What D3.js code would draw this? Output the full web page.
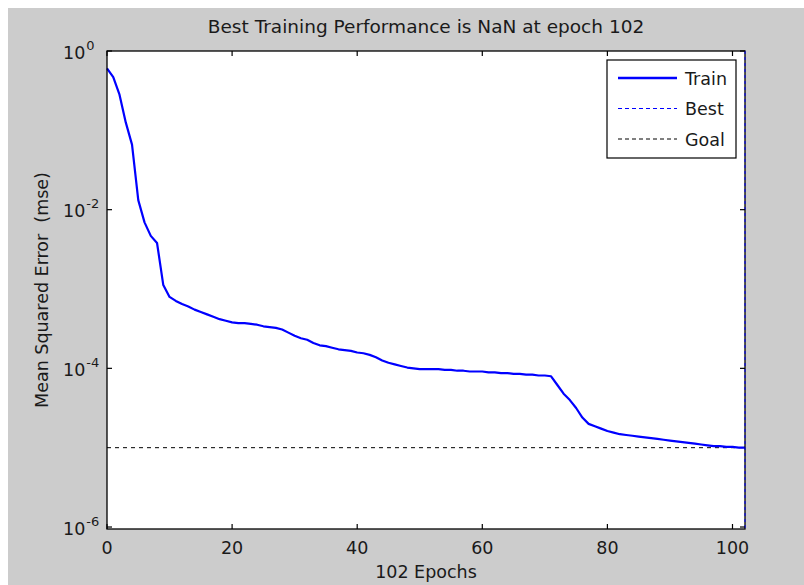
<!DOCTYPE html>
<html>
<head>
<meta charset="utf-8">
<script src="https://cdn.jsdelivr.net/npm/d3@7"></script>
<style>
  body { margin: 0; background: #ffffff; }
  text { font-family: "DejaVu Sans", sans-serif; fill: #1a1a1a; white-space: pre; }
</style>
</head>
<body>
<div id="chart"></div>
<script>
// training curve, log10(mse) read per epoch off the picture
var epochs = d3.range(0, 103);
var trainLogMse = [
  -0.22, -0.33, -0.55, -0.90, -1.18, -1.88, -2.16, -2.33, -2.42, -2.95,
  -3.10, -3.15, -3.19, -3.22, -3.26, -3.29, -3.32, -3.35, -3.38, -3.40,
  -3.42, -3.43, -3.43, -3.44, -3.45, -3.47, -3.48, -3.49, -3.51, -3.55,
  -3.59, -3.62, -3.64, -3.68, -3.71, -3.72, -3.74, -3.76, -3.77, -3.78,
  -3.80, -3.81, -3.83, -3.86, -3.90, -3.93, -3.95, -3.97, -3.99, -4.00,
  -4.01, -4.01, -4.01, -4.01, -4.02, -4.02, -4.03, -4.03, -4.04, -4.04,
  -4.04, -4.05, -4.05, -4.06, -4.06, -4.07, -4.07, -4.08, -4.08, -4.09,
  -4.09, -4.10, -4.21, -4.32, -4.40, -4.50, -4.62, -4.70, -4.73, -4.76,
  -4.79, -4.81, -4.83, -4.84, -4.85, -4.86, -4.87, -4.88, -4.89, -4.90,
  -4.91, -4.92, -4.93, -4.94, -4.95, -4.96, -4.97, -4.98, -4.98, -4.99,
  -4.99, -5.00, -5.00
];
var goalMse = 1e-5;
var bestEpoch = 102;
var xTicks = [0, 20, 40, 60, 80, 100];
var yTickExps = [0, -2, -4, -6];
var legendNames = ["Train", "Best", "Goal"];
var titleText = "Best Training Performance is NaN at epoch 102";
var xLabel = "102 Epochs";
var yLabel = "Mean Squared Error  (mse)";

var W = 804, H = 585;
// plot box edges (top is a reserved window prop, so prefix them)
var box_left = 107, box_right = 745, box_top = 51, box_bottom = 529;
var tick_len = 5;
var font_px = "17.5px";

var svg = d3.select("#chart").append("svg")
  .attr("width", W)
  .attr("height", H);

// figure background
svg.append("rect")
  .attr("x", 8).attr("y", 8)
  .attr("width", W - 8).attr("height", H - 8)
  .attr("fill", "#cccccc");

var x = d3.scaleLinear().domain([0, 102]).range([box_left, box_right]);
var y = d3.scaleLog().domain([Math.pow(10, -6.025), 1]).range([box_bottom, box_top]);

svg.append("rect")
  .attr("x", box_left).attr("y", box_top)
  .attr("width", box_right - box_left).attr("height", box_bottom - box_top)
  .attr("fill", "#ffffff");

var plot = svg.append("g");

// goal line
plot.append("line")
  .attr("x1", x(0)).attr("x2", x(102))
  .attr("y1", y(goalMse)).attr("y2", y(goalMse))
  .attr("stroke", "#000")
  .attr("stroke-width", 1)
  .attr("stroke-dasharray", "4,4");

var line = d3.line()
  .x(function(d, i) { return x(epochs[i]); })
  .y(function(d) { return y(Math.pow(10, d)); });

plot.append("path")
  .datum(trainLogMse)
  .attr("d", line)
  .attr("fill", "none")
  .attr("stroke", "#0000ff")
  .attr("stroke-width", 2.2)
  .attr("stroke-linejoin", "round");

// box
svg.append("rect")
  .attr("x", box_left).attr("y", box_top)
  .attr("width", box_right - box_left).attr("height", box_bottom - box_top)
  .attr("fill", "none")
  .attr("stroke", "#000")
  .attr("stroke-width", 1.3);

// best epoch vertical marker (sits on the right edge)
svg.append("line")
  .attr("x1", x(bestEpoch)).attr("x2", x(bestEpoch))
  .attr("y1", box_top).attr("y2", box_bottom)
  .attr("stroke", "#0000ff")
  .attr("stroke-width", 1)
  .attr("stroke-dasharray", "3,3");

// ticks, all four sides, pointing in
var ticks = svg.append("g").attr("stroke", "#000").attr("stroke-width", 1.2);
xTicks.forEach(function(t) {
  ticks.append("line").attr("x1", x(t)).attr("x2", x(t)).attr("y1", box_bottom).attr("y2", box_bottom - tick_len);
  ticks.append("line").attr("x1", x(t)).attr("x2", x(t)).attr("y1", box_top).attr("y2", box_top + tick_len);
});
yTickExps.forEach(function(e) {
  var yy = y(Math.pow(10, e));
  ticks.append("line").attr("x1", box_left).attr("x2", box_left + tick_len).attr("y1", yy).attr("y2", yy);
  ticks.append("line").attr("x1", box_right).attr("x2", box_right - tick_len).attr("y1", yy).attr("y2", yy);
});

// tick labels
svg.append("g").selectAll("text")
  .data(xTicks)
  .enter().append("text")
  .attr("x", function(d) { return x(d); })
  .attr("y", box_bottom + 25)
  .attr("text-anchor", "middle")
  .style("font-size", font_px)
  .text(function(d) { return d; });

var ylab = svg.append("g").selectAll("text")
  .data(yTickExps)
  .enter().append("text")
  .attr("x", 63)
  .attr("y", function(d) { return y(Math.pow(10, d)) + 7.5; })
  .style("font-size", font_px);
ylab.append("tspan").text("10");
ylab.append("tspan")
  .attr("dy", -9)
  .attr("dx", 1)
  .style("font-size", "13px")
  .text(function(d) { return d; });

// titles
svg.append("text")
  .attr("x", (box_left + box_right) / 2)
  .attr("y", 33)
  .attr("text-anchor", "middle")
  .style("font-size", "18.5px")
  .text(titleText);

svg.append("text")
  .attr("x", (box_left + box_right) / 2)
  .attr("y", 578)
  .attr("text-anchor", "middle")
  .style("font-size", font_px)
  .text(xLabel);

svg.append("text")
  .attr("transform", "translate(48," + (box_top + box_bottom) / 2 + ") rotate(-90)")
  .attr("text-anchor", "middle")
  .style("font-size", font_px)
  .text(yLabel);

// legend
var leg = svg.append("g");
leg.append("rect")
  .attr("x", 607).attr("y", 60)
  .attr("width", 129).attr("height", 98)
  .attr("fill", "#ffffff")
  .attr("stroke", "#000")
  .attr("stroke-width", 1.2);
var legStyles = [
  { color: "#0000ff", width: 2.5, dash: null },
  { color: "#0000ff", width: 1, dash: "4,3" },
  { color: "#000000", width: 1, dash: "4,3" }
];
legendNames.forEach(function(name, i) {
  var ly = 78 + i * 30.5;
  leg.append("line")
    .attr("x1", 618).attr("x2", 677)
    .attr("y1", ly).attr("y2", ly)
    .attr("stroke", legStyles[i].color)
    .attr("stroke-width", legStyles[i].width)
    .attr("stroke-dasharray", legStyles[i].dash);
  leg.append("text")
    .attr("x", 685)
    .attr("y", ly + 6.5)
    .style("font-size", font_px)
    .text(name);
});
</script>
</body>
</html>
